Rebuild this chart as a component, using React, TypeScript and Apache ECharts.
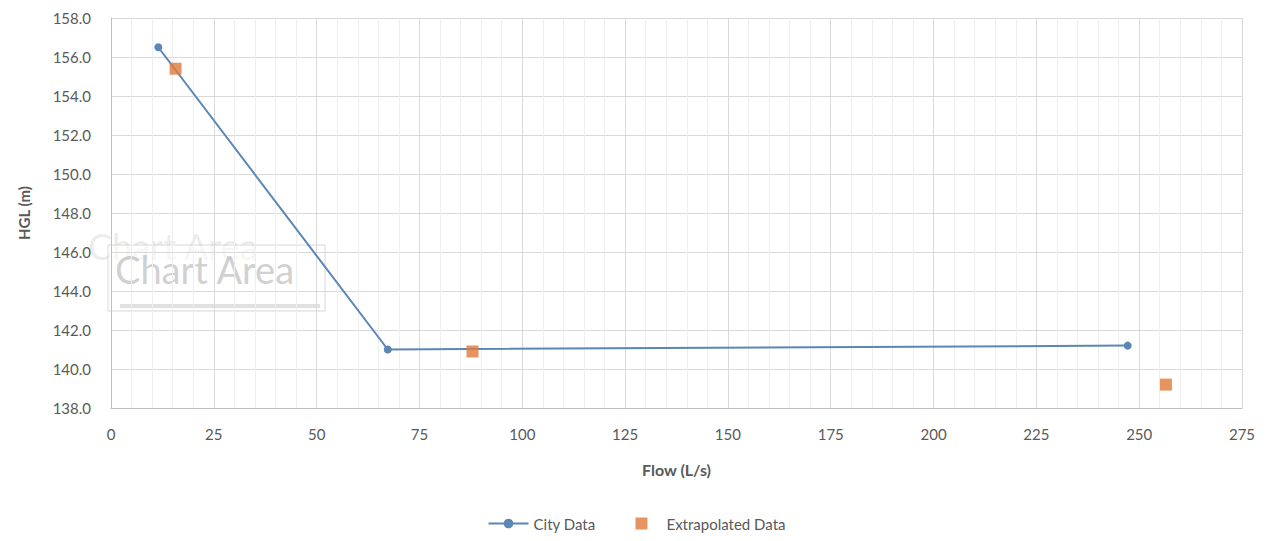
import React, { useEffect, useRef } from "react";
import * as echarts from "echarts";

// Flow (L/s) vs hydraulic grade line (m)
const cityFlow = [11.5, 67.3, 247.2];
const cityHgl = [156.5, 141.0, 141.2];
const extraFlow = [15.7, 87.9, 256.5];
const extraHgl = [155.4, 140.9, 139.2];

const xTicks = { min: 0, max: 275, interval: 25 };
const yTicks = { min: 138, max: 158, interval: 2 };

const FONT = "Lato, 'Open Sans', sans-serif";
const LABEL = "#595959";

export default function App() {
  const ref = useRef<HTMLDivElement>(null);

  useEffect(() => {
    if (!ref.current) return;
    const chart = echarts.init(ref.current, undefined, { renderer: "svg" });
    chart.setOption({
      animation: false,
      backgroundColor: "#ffffff",
      textStyle: { fontFamily: FONT },
      grid: { left: 98, right: 23, top: 10, bottom: 125, containLabel: false },
      legend: {
        bottom: -3,
        left: "center",
        itemGap: 40,
        itemWidth: 40,
        itemHeight: 12,
        symbolKeepAspect: true,
        textStyle: { color: LABEL, fontSize: 15, fontFamily: FONT },
        data: [
          { name: "City Data" },
          { name: "Extrapolated Data", icon: "path://M0 0H10V10H0Z" },
        ],
      },
      xAxis: {
        type: "value",
        ...xTicks,
        name: "Flow (L/s)",
        nameLocation: "middle",
        nameGap: 53,
        nameTextStyle: { color: LABEL, fontSize: 16, fontWeight: "bold", fontFamily: FONT },
        axisLine: { show: true, lineStyle: { color: "#bfbfbf", width: 1 } },
        axisTick: { show: false },
        axisLabel: { color: LABEL, fontSize: 15, margin: 18, fontFamily: FONT },
        splitLine: { show: true, lineStyle: { color: "#d9d9d9", width: 1 } },
        minorTick: { show: false, splitNumber: 5 },
        minorSplitLine: { show: true, lineStyle: { color: "#eeeeee", width: 1 } },
      },
      yAxis: {
        type: "value",
        ...yTicks,
        name: "HGL (m)",
        nameLocation: "middle",
        nameGap: 80,
        nameRotate: 90,
        nameTextStyle: { color: LABEL, fontSize: 15, fontWeight: "bold", fontFamily: FONT },
        axisLine: { show: true, lineStyle: { color: "#bfbfbf", width: 1 } },
        axisTick: { show: false },
        axisLabel: {
          color: LABEL,
          fontSize: 15,
          margin: 20,
          fontFamily: FONT,
          formatter: (v: number) => v.toFixed(1),
        },
        splitLine: { show: true, lineStyle: { color: "#d9d9d9", width: 1 } },
      },
      series: [
        {
          name: "City Data",
          type: "line",
          data: cityFlow.map((x, i) => [x, cityHgl[i]]),
          symbol: "circle",
          symbolSize: 8,
          lineStyle: { color: "#5b86b6", width: 2 },
          itemStyle: { color: "#5b86b6" },
          z: 3,
        },
        {
          name: "Extrapolated Data",
          type: "scatter",
          data: extraFlow.map((x, i) => [x, extraHgl[i]]),
          symbol: "rect",
          symbolSize: 12,
          itemStyle: { color: "#e07b39" },
          z: 4,
        },
      ],
      graphic: [
        {
          type: "text",
          left: 80,
          top: 220,
          silent: true,
          style: { text: "Chart Area", fontSize: 36, fontFamily: FONT, fill: "rgba(170,170,170,0.22)" },
        },
        {
          type: "rect",
          shape: { x: 100, y: 237, width: 217, height: 66 },
          silent: true,
          style: { fill: "rgba(255,255,255,0.55)", stroke: "rgba(190,190,190,0.6)", lineWidth: 1 },
        },
        {
          type: "text",
          left: 107,
          top: 242,
          silent: true,
          style: { text: "Chart Area", fontSize: 38, fontFamily: FONT, fill: "rgba(150,150,150,0.45)" },
        },
        {
          type: "rect",
          shape: { x: 112, y: 296, width: 200, height: 4 },
          silent: true,
          style: { fill: "rgba(170,170,170,0.35)" },
        },
      ],
    });
    return () => chart.dispose();
  }, []);

  return <div ref={ref} style={{ width: 1257, height: 525 }} />;
}
